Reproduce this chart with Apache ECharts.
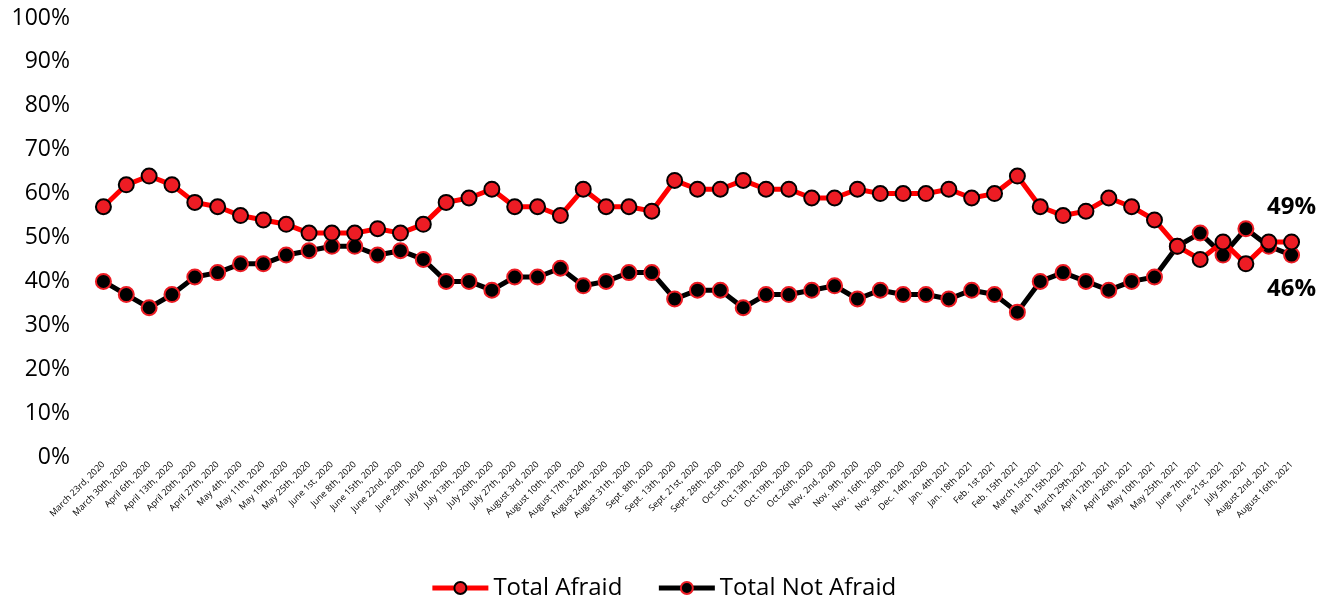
<!DOCTYPE html>
<html>
<head>
<meta charset="utf-8">
<script src="https://cdn.jsdelivr.net/npm/echarts@6/dist/echarts.min.js"></script>
<style>
html, body { margin: 0; padding: 0; background: #fff; }
#main { width: 1326px; height: 598px; }
</style>
</head>
<body>
<div id="main"></div>
<script>
var dates = ['March 23rd, 2020', 'March 30th, 2020', 'April 6th, 2020', 'April 13th, 2020', 'April 20th, 2020',
    'April 27th, 2020', 'May 4th, 2020', 'May 11th, 2020', 'May 19th, 2020', 'May 25th, 2020',
    'June 1st, 2020', 'June 8th, 2020', 'June 15th, 2020', 'June 22nd, 2020', 'June 29th, 2020',
    'July 6th, 2020', 'July 13th, 2020', 'July 20th, 2020', 'July 27th, 2020', 'August 3rd, 2020',
    'August 10th, 2020', 'August 17th, 2020', 'August 24th, 2020', 'August 31th, 2020', 'Sept. 8th, 2020',
    'Sept. 13th, 2020', 'Sept. 21st, 2020', 'Sept. 28th, 2020', 'Oct.5th, 2020', 'Oct.13th, 2020',
    'Oct.19th, 2020', 'Oct.26th, 2020', 'Nov. 2nd, 2020', 'Nov. 9th, 2020', 'Nov. 16th, 2020',
    'Nov. 30th, 2020', 'Dec. 14th, 2020', 'Jan. 4th 2021', 'Jan. 18th 2021', 'Feb. 1st 2021',
    'Feb. 15th 2021', 'March 1st,2021', 'March 15th,2021', 'March 29th,2021', 'April 12th, 2021',
    'April 26th, 2021', 'May 10th, 2021', 'May 25th, 2021', 'June 7th, 2021', 'June 21st, 2021',
    'July 5th, 2021', 'August 2nd, 2021', 'August 16th, 2021'];

var afraid = [57, 62, 64, 62, 58, 57, 55, 54, 53, 51,
    51, 51, 52, 51, 53, 58, 59, 61, 57, 57,
    55, 61, 57, 57, 56, 63, 61, 61, 63, 61,
    61, 59, 59, 61, 60, 60, 60, 61, 59, 60,
    64, 57, 55, 56, 59, 57, 54, 48, 45, 49,
    44, 49, 49];

var notAfraid = [40, 37, 34, 37, 41, 42, 44, 44, 46, 47,
    48, 48, 46, 47, 45, 40, 40, 38, 41, 41,
    43, 39, 40, 42, 42, 36, 38, 38, 34, 37,
    37, 38, 39, 36, 38, 37, 37, 36, 38, 37,
    33, 40, 42, 40, 38, 40, 41, 48, 51, 46,
    52, 48, 46];

var yTicks = [0, 10, 20, 30, 40, 50, 60, 70, 80, 90, 100];

// only the last point of each line carries a label
function withEndLabel(arr, pos) {
    return arr.map(function (v, i) {
        if (i !== arr.length - 1) return v;
        return {
            value: v,
            label: {
                show: true, position: pos, distance: 14,
                formatter: '{c}%', fontSize: 24, fontWeight: 'bold', color: '#000',
                fontFamily: 'Open Sans'
            }
        };
    });
}

var myChart = echarts.init(document.getElementById('main'));
var option = {
    animation: false,
    grid: { left: 92, right: 23, top: 18, bottom: 141 },
    legend: {
        top: 571,
        left: 'center',
        itemWidth: 56,
        itemHeight: 15,
        itemGap: 34,
        lineStyle: { width: 5 },
        textStyle: { fontSize: 24, color: '#000', fontFamily: 'Open Sans' },
        data: ['Total Afraid', 'Total Not Afraid']
    },
    xAxis: {
        type: 'category',
        data: dates,
        boundaryGap: true,
        axisLine: { show: false },
        axisTick: { show: false },
        axisLabel: {
            interval: 0, rotate: 45, fontSize: 9, color: '#000', margin: 6,
            fontFamily: 'Open Sans'
        }
    },
    yAxis: {
        type: 'value',
        min: yTicks[0],
        max: yTicks[yTicks.length - 1],
        interval: 10,
        splitLine: { show: false },
        axisLine: { show: false },
        axisTick: { show: false },
        axisLabel: {
            formatter: '{value}%', fontSize: 23, color: '#000', margin: 22,
            fontFamily: 'Open Sans'
        }
    },
    series: [
        {
            name: 'Total Afraid',
            type: 'line',
            data: withEndLabel(afraid, 'top'),
            symbol: 'circle',
            symbolSize: 15,
            lineStyle: { color: '#ff0000', width: 5 },
            itemStyle: { color: '#ed1c24', borderColor: '#000', borderWidth: 2 },
            z: 3
        },
        {
            name: 'Total Not Afraid',
            type: 'line',
            data: withEndLabel(notAfraid, 'bottom'),
            symbol: 'circle',
            symbolSize: 15,
            lineStyle: { color: '#000', width: 5 },
            itemStyle: { color: '#000', borderColor: '#ed1c24', borderWidth: 2 },
            z: 2
        }
    ]
};
myChart.setOption(option, true);
</script>
</body>
</html>
